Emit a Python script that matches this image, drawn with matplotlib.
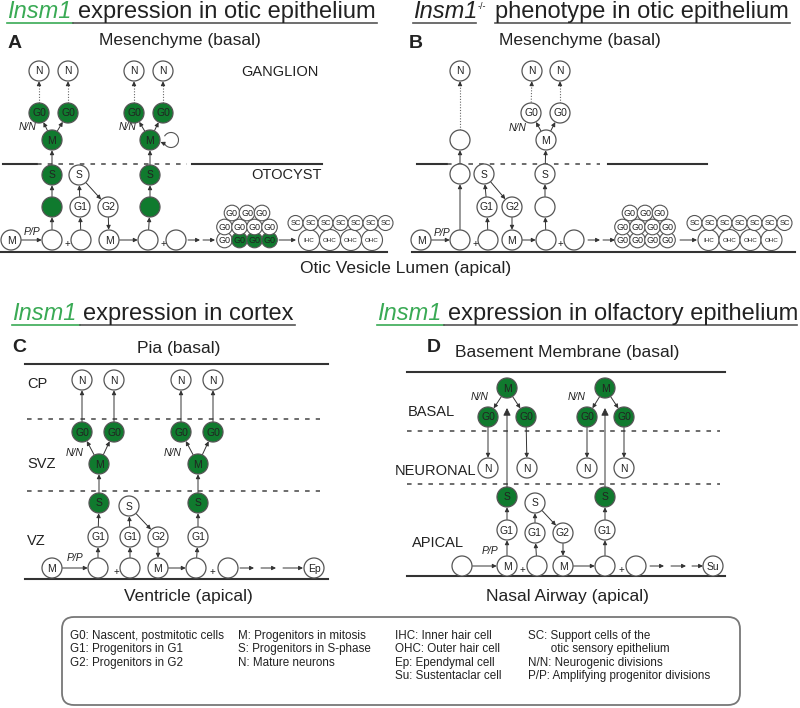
import math
import matplotlib.pyplot as plt
from matplotlib.patches import Circle, FancyBboxPatch, Arc

plt.rcParams['font.family'] = ['Liberation Sans', 'DejaVu Sans']

GREEN = '#107a2e'
TGREEN = '#3aaa55'
EDGE = '#555555'
INK = '#222222'

# ---- panel A: Insm1 expression in otic epithelium
A_cells = [
    ('n1', 'N', 39, 71, 0), ('n2', 'N', 68, 71, 0), ('n3', 'N', 134, 71, 0), ('n4', 'N', 163, 71, 0),
    ('g01', 'G0', 39, 113, 1), ('g02', 'G0', 68, 113, 1), ('g03', 'G0', 134, 113, 1), ('g04', 'G0', 163, 113, 1),
    ('m1', 'M', 52, 140, 1), ('m2', 'M', 150, 140, 1),
    ('s1', 'S', 52, 175, 1), ('s2', 'S', 79, 175, 0), ('s3', 'S', 150, 175, 1),
    ('e1', '', 52, 207, 1), ('g1', 'G1', 80, 207, 0), ('g2', 'G2', 108, 207, 0), ('e2', '', 150, 207, 1),
    ('m0', 'M', 11, 240, 0), ('b1', '', 52, 240, 0), ('b2', '', 81, 240, 0), ('m3', 'M', 109, 240, 0),
    ('b3', '', 148, 240, 0), ('b4', '', 176, 240, 0),
]
A_links = [('m0', 'b1', '-'), ('b1', 'e1', '-'), ('e1', 's1', '-'), ('s1', 'm1', '-'),
           ('m1', 'g01', '-'), ('m1', 'g02', '-'), ('g01', 'n1', ':'), ('g02', 'n2', ':'),
           ('b2', 'g1', '-'), ('g1', 's2', '-'), ('s2', 'g2', '-'), ('g2', 'm3', '-'), ('m3', 'b3', '-'),
           ('b3', 'e2', '-'), ('e2', 's3', '-'), ('s3', 'm2', '-'),
           ('m2', 'g03', '-'), ('m2', 'g04', '-'), ('g03', 'n3', ':'), ('g04', 'n4', ':')]
A_g0_x = [224.5, 239.5, 254.5, 269.5]
A_g0_top_x = [232, 247, 262]
A_g0_bottom_green = [0, 1, 1, 1]
A_hc_x = [309, 330, 351, 372]
A_sc_x = [295.5, 310.5, 325.5, 340.5, 355.5, 370.5, 385.5]

# ---- panel B: Insm1-/- phenotype
B_cells = [
    ('n1', 'N', 460, 71, 0), ('n2', 'N', 532, 71, 0), ('n3', 'N', 560, 71, 0),
    ('et', '', 460, 140, 0), ('g01', 'G0', 531, 113, 0), ('g02', 'G0', 560, 113, 0), ('m1', 'M', 546, 140, 0),
    ('e1', '', 460, 174, 0), ('s1', 'S', 484, 174, 0), ('s2', 'S', 545, 174, 0),
    ('g1', 'G1', 487, 207, 0), ('g2', 'G2', 512, 207, 0), ('e2', '', 545, 207, 0),
    ('m0', 'M', 421, 240, 0), ('b1', '', 460, 240, 0), ('b2', '', 488, 240, 0), ('m3', 'M', 512, 240, 0),
    ('b3', '', 546, 240, 0), ('b4', '', 574, 240, 0),
]
B_links = [('m0', 'b1', '-'), ('b1', 'e1', '-'), ('e1', 'et', '-'), ('et', 'n1', ':'),
           ('b2', 'g1', '-'), ('g1', 's1', '-'), ('s1', 'g2', '-'), ('g2', 'm3', '-'), ('m3', 'b3', '-'),
           ('b3', 'e2', '-'), ('e2', 's2', '-'), ('s2', 'm1', '-'),
           ('m1', 'g01', '-'), ('m1', 'g02', '-'), ('g01', 'n2', ':'), ('g02', 'n3', ':')]
B_g0_x = [622.5, 637.5, 652.5, 667.5]
B_g0_top_x = [630, 645, 660]
B_hc_x = [708.5, 729.5, 750.5, 771.5]
B_sc_x = [694.5, 709.5, 724.5, 739.5, 754.5, 769.5, 784.5]
hc_labels = ['IHC', 'OHC', 'OHC', 'OHC']

# ---- panel C: cortex
C_cells = [
    ('n1', 'N', 82, 380, 0), ('n2', 'N', 114, 380, 0), ('n3', 'N', 181, 380, 0), ('n4', 'N', 213, 380, 0),
    ('g01', 'G0', 82, 432, 1), ('g02', 'G0', 114, 432, 1), ('g03', 'G0', 181, 432, 1), ('g04', 'G0', 213, 432, 1),
    ('m1', 'M', 99, 464, 1), ('m2', 'M', 198, 464, 1),
    ('s1', 'S', 99, 503, 1), ('s2', 'S', 129, 506, 0), ('s3', 'S', 198, 503, 1),
    ('g1a', 'G1', 98, 537, 0), ('g1b', 'G1', 130, 537, 0), ('g2', 'G2', 158, 537, 0), ('g1c', 'G1', 198, 537, 0),
    ('m0', 'M', 52, 568, 0), ('b1', '', 98, 568, 0), ('b2', '', 130, 568, 0), ('m3', 'M', 158, 568, 0),
    ('b3', '', 196, 568, 0), ('b4', '', 228, 568, 0), ('ep', 'Ep', 314, 568, 0),
]
C_links = [('m0', 'b1', '-'), ('b1', 'g1a', '-'), ('g1a', 's1', '-'), ('s1', 'm1', '-'),
           ('m1', 'g01', '-'), ('m1', 'g02', '-'), ('g01', 'n1', '-'), ('g02', 'n2', '-'),
           ('b2', 'g1b', '-'), ('g1b', 's2', '-'), ('s2', 'g2', '-'), ('g2', 'm3', '-'), ('m3', 'b3', '-'),
           ('b3', 'g1c', '-'), ('g1c', 's3', '-'), ('s3', 'm2', '-'),
           ('m2', 'g03', '-'), ('m2', 'g04', '-'), ('g03', 'n3', '-'), ('g04', 'n4', '-')]

# ---- panel D: olfactory epithelium
D_cells = [
    ('m1', 'M', 507, 388, 1), ('m2', 'M', 605, 388, 1),
    ('g01', 'G0', 488, 417, 1), ('g02', 'G0', 526, 417, 1), ('g03', 'G0', 587, 417, 1), ('g04', 'G0', 624, 417, 1),
    ('n1', 'N', 488, 468, 0), ('n2', 'N', 527, 468, 0), ('n3', 'N', 587, 468, 0), ('n4', 'N', 624, 468, 0),
    ('s1', 'S', 507, 497, 1), ('s2', 'S', 535, 503, 0), ('s3', 'S', 605, 497, 1),
    ('g1a', 'G1', 507, 530, 0), ('g1b', 'G1', 535, 533, 0), ('g2', 'G2', 563, 533, 0), ('g1c', 'G1', 605, 530, 0),
    ('e0', '', 462, 566, 0), ('m0', 'M', 507, 566, 0), ('b2', '', 537, 566, 0), ('m3', 'M', 563, 566, 0),
    ('b3', '', 605, 566, 0), ('b4', '', 636, 566, 0), ('su', 'Su', 713, 566, 0),
]
D_links = [('e0', 'm0', '-'), ('m0', 'g1a', '-'), ('g1a', 's1', '-'),
           ('m1', 'g01', '-'), ('m1', 'g02', '-'), ('g01', 'n1', '-'), ('g02', 'n2', '-'),
           ('b2', 'g1b', '-'), ('g1b', 's2', '-'), ('s2', 'g2', '-'), ('g2', 'm3', '-'), ('m3', 'b3', '-'),
           ('b3', 'g1c', '-'), ('g1c', 's3', '-'),
           ('m2', 'g03', '-'), ('m2', 'g04', '-'), ('g03', 'n3', '-'), ('g04', 'n4', '-')]

legend_cols = [
    ['G0: Nascent, postmitotic cells', 'G1: Progenitors in G1', 'G2: Progenitors in G2'],
    ['M: Progenitors in mitosis', 'S: Progenitors in S-phase', 'N: Mature neurons'],
    ['IHC: Inner hair cell', 'OHC: Outer hair cell', 'Ep: Ependymal cell', 'Su: Sustentaclar cell'],
    ['SC: Support cells of the', '       otic sensory epithelium', 'N/N: Neurogenic divisions',
     'P/P: Amplifying progenitor divisions'],
]
legend_x = [70, 238, 395, 528]

fig = plt.figure(figsize=(8, 7.08), dpi=100)
ax = fig.add_axes([0, 0, 1, 1])
ax.set_xlim(0, 800)
ax.set_ylim(708, 0)
ax.axis('off')


def arrow(x1, y1, x2, y2, ls='-', ms=6, lw=0.7, color='#333333'):
    if ls == '-':
        ax.annotate('', xy=(x2, y2), xytext=(x1, y1),
                    arrowprops=dict(arrowstyle='-|>', color=color, lw=lw, mutation_scale=ms,
                                    shrinkA=0, shrinkB=0), zorder=2)
    else:
        ax.plot([x1, x2], [y1, y2], ls=(0, (1, 1.5)), color='#666666', lw=0.8, zorder=2)
        d = math.hypot(x2 - x1, y2 - y1)
        ax.annotate('', xy=(x2, y2), xytext=(x2 - (x2 - x1) * 4 / d, y2 - (y2 - y1) * 4 / d),
                    arrowprops=dict(arrowstyle='-|>', color=color, lw=lw, mutation_scale=ms,
                                    shrinkA=0, shrinkB=0), zorder=2)


def draw_cells(cells, r=10):
    pos = {}
    for name, lab, x, y, g in cells:
        ax.add_patch(Circle((x, y), r, fc=GREEN if g else 'white', ec=EDGE, lw=0.9, zorder=3))
        if lab:
            ax.text(x, y + 0.5, lab, ha='center', va='center', fontsize=7.5, color=INK, zorder=4)
        pos[name] = (x, y, r)
    return pos


def draw_links(pos, links):
    for a, b, ls in links:
        x1, y1, r1 = pos[a]
        x2, y2, r2 = pos[b]
        d = math.hypot(x2 - x1, y2 - y1)
        ux, uy = (x2 - x1) / d, (y2 - y1) / d
        arrow(x1 + ux * (r1 + 0.5), y1 + uy * (r1 + 0.5), x2 - ux * (r2 + 0.3), y2 - uy * (r2 + 0.3), ls)


def hline(x1, x2, y, dotted=False):
    if dotted:
        ax.plot([x1, x2], [y, y], color='#444444', lw=1.1, ls=(0, (3, 4)), zorder=1)
    else:
        ax.plot([x1, x2], [y, y], color='#333333', lw=1.5, zorder=1)


def small_row(xs, y, labels, greens, r, fs):
    for x, lab, g in zip(xs, labels, greens):
        ax.add_patch(Circle((x, y), r, fc=GREEN if g else 'white', ec=EDGE, lw=0.8, zorder=3))
        ax.text(x, y + 0.5, lab, ha='center', va='center', fontsize=fs, color=INK, zorder=4)


def title(x_ins, x_rest, y, rest, green=True, sup=False):
    c = TGREEN if green else INK
    ax.text(x_ins, y, 'Insm1', fontsize=17, style='italic', color=c, va='baseline')
    ax.text(x_rest, y, rest, fontsize=17, color=INK, va='baseline')
    if sup:
        ax.text(x_rest - 17, y - 9, '-/-', fontsize=6.5, color=INK, va='baseline')


def plus(x, y):
    ax.text(x, y, '+', ha='center', va='center', fontsize=7, color=INK)


# titles and underlines
title(7, 78, 18, 'expression in otic epithelium')
ax.plot([7, 73], [22.5, 22.5], color=TGREEN, lw=1.2)
ax.plot([73, 377], [22.5, 22.5], color='#555555', lw=1.2)
title(413, 495, 18, 'phenotype in otic epithelium', green=False, sup=True)
ax.plot([413, 476], [22.5, 22.5], color='#555555', lw=1.2)
ax.plot([495, 790], [22.5, 22.5], color='#555555', lw=1.2)
title(12, 83, 320, 'expression in cortex')
ax.plot([12, 80], [324.5, 324.5], color=TGREEN, lw=1.2)
ax.plot([80, 295], [324.5, 324.5], color='#555555', lw=1.2)
title(377, 448, 320, 'expression in olfactory epithelium')
ax.plot([377, 444], [324.5, 324.5], color=TGREEN, lw=1.2)
ax.plot([444, 797], [324.5, 324.5], color='#555555', lw=1.2)

# panel letters
for lab, x, y in [('A', 15, 43), ('B', 416, 43), ('C', 19, 348), ('D', 434, 348)]:
    ax.text(x, y, lab, ha='center', va='center', fontsize=14, fontweight='bold', color=INK)

# region headers
for lab, x, y in [('Mesenchyme (basal)', 180, 40), ('Mesenchyme (basal)', 580, 40),
                  ('Otic Vesicle Lumen (apical)', 406, 268), ('Pia (basal)', 179, 348),
                  ('Basement Membrane (basal)', 567, 352), ('Ventricle (apical)', 188, 597),
                  ('Nasal Airway (apical)', 567, 596)]:
    ax.text(x, y, lab, ha='center', va='center', fontsize=12.5, color=INK)

for lab, x, y, ha in [('GANGLION', 280, 72, 'center'), ('OTOCYST', 286, 175, 'center'),
                      ('CP', 27, 384, 'left'), ('SVZ', 27, 464, 'left'), ('VZ', 27, 541, 'left'),
                      ('BASAL', 408, 412, 'left'), ('NEURONAL', 395, 471, 'left'), ('APICAL', 412, 543, 'left')]:
    ax.text(x, y, lab, ha=ha, va='center', fontsize=10.5, color=INK)

for lab, x, y in [('N/N', 28, 127), ('N/N', 128, 127), ('N/N', 518, 128), ('N/N', 75, 453),
                  ('N/N', 173, 453), ('N/N', 480, 397), ('N/N', 577, 397),
                  ('P/P', 32, 232), ('P/P', 442, 233), ('P/P', 75, 558), ('P/P', 490, 551)]:
    ax.text(x, y, lab, ha='center', va='center', fontsize=7.5, style='italic', color=INK)

# layer lines
hline(3, 37, 164); hline(37, 187, 164, True); hline(192, 322, 164)
hline(0, 387, 252)
hline(417, 447, 164); hline(447, 600, 164, True); hline(608, 707, 164)
hline(412, 795, 252)
hline(25, 328, 364); hline(27, 320, 419, True); hline(27, 320, 491, True); hline(25, 328, 579)
hline(407, 725, 372); hline(407, 720, 431, True); hline(407, 720, 484, True); hline(407, 725, 576)

# panel A
pA = draw_cells(A_cells)
draw_links(pA, A_links)
ax.add_patch(Arc((171, 140), 15, 15, theta1=-150, theta2=150, color='#555555', lw=0.8))
arrow(165, 144, 160.5, 142)
plus(67, 244); plus(163, 244)
arrow(188, 240, 200, 240); arrow(203, 240, 215, 240)
small_row(A_g0_x, 240, ['G0'] * 4, A_g0_bottom_green, 7.8, 6.5)
small_row(A_g0_x, 227, ['G0'] * 4, [0] * 4, 7.8, 6.5)
small_row(A_g0_top_x, 213, ['G0'] * 3, [0] * 3, 7.8, 6.5)
arrow(279, 240, 296, 240)
small_row(A_hc_x, 240, hc_labels, [0] * 4, 10.5, 4.5)
small_row(A_sc_x, 223, ['SC'] * 7, [0] * 7, 7.5, 5.5)

# panel B
pB = draw_cells(B_cells)
draw_links(pB, B_links)
plus(475, 244); plus(560, 244)
arrow(588, 240, 600, 240); arrow(603, 240, 615, 240)
small_row(B_g0_x, 240, ['G0'] * 4, [0] * 4, 7.8, 6.5)
small_row(B_g0_x, 227, ['G0'] * 4, [0] * 4, 7.8, 6.5)
small_row(B_g0_top_x, 213, ['G0'] * 3, [0] * 3, 7.8, 6.5)
arrow(680, 240, 697, 240)
small_row(B_hc_x, 240, hc_labels, [0] * 4, 10.5, 4.5)
small_row(B_sc_x, 223, ['SC'] * 7, [0] * 7, 7.5, 5.5)

# panel C
pC = draw_cells(C_cells)
draw_links(pC, C_links)
plus(116, 572); plus(212, 572)
arrow(240, 568, 254, 568); arrow(261, 568, 276, 568); arrow(283, 568, 303, 568)

# panel D
pD = draw_cells(D_cells)
draw_links(pD, D_links)
for key in ['s1', 's3']:
    x, y, r = pD[key]
    arrow(x, y - r, x, 408, ms=11)
plus(522, 570); plus(621, 570)
arrow(650, 566, 664, 566); arrow(671, 566, 686, 566); arrow(692, 566, 703, 566)

# legend
ax.add_patch(FancyBboxPatch((62, 617), 678, 88, boxstyle='round,pad=0,rounding_size=12',
                            fc='white', ec='#777777', lw=1.3))
for col, x in zip(legend_cols, legend_x):
    for i, line in enumerate(col):
        ax.text(x, 636 + 13.3 * i, line, ha='left', va='center', fontsize=8.4, color=INK)

fig.savefig('out.png', dpi=100)
